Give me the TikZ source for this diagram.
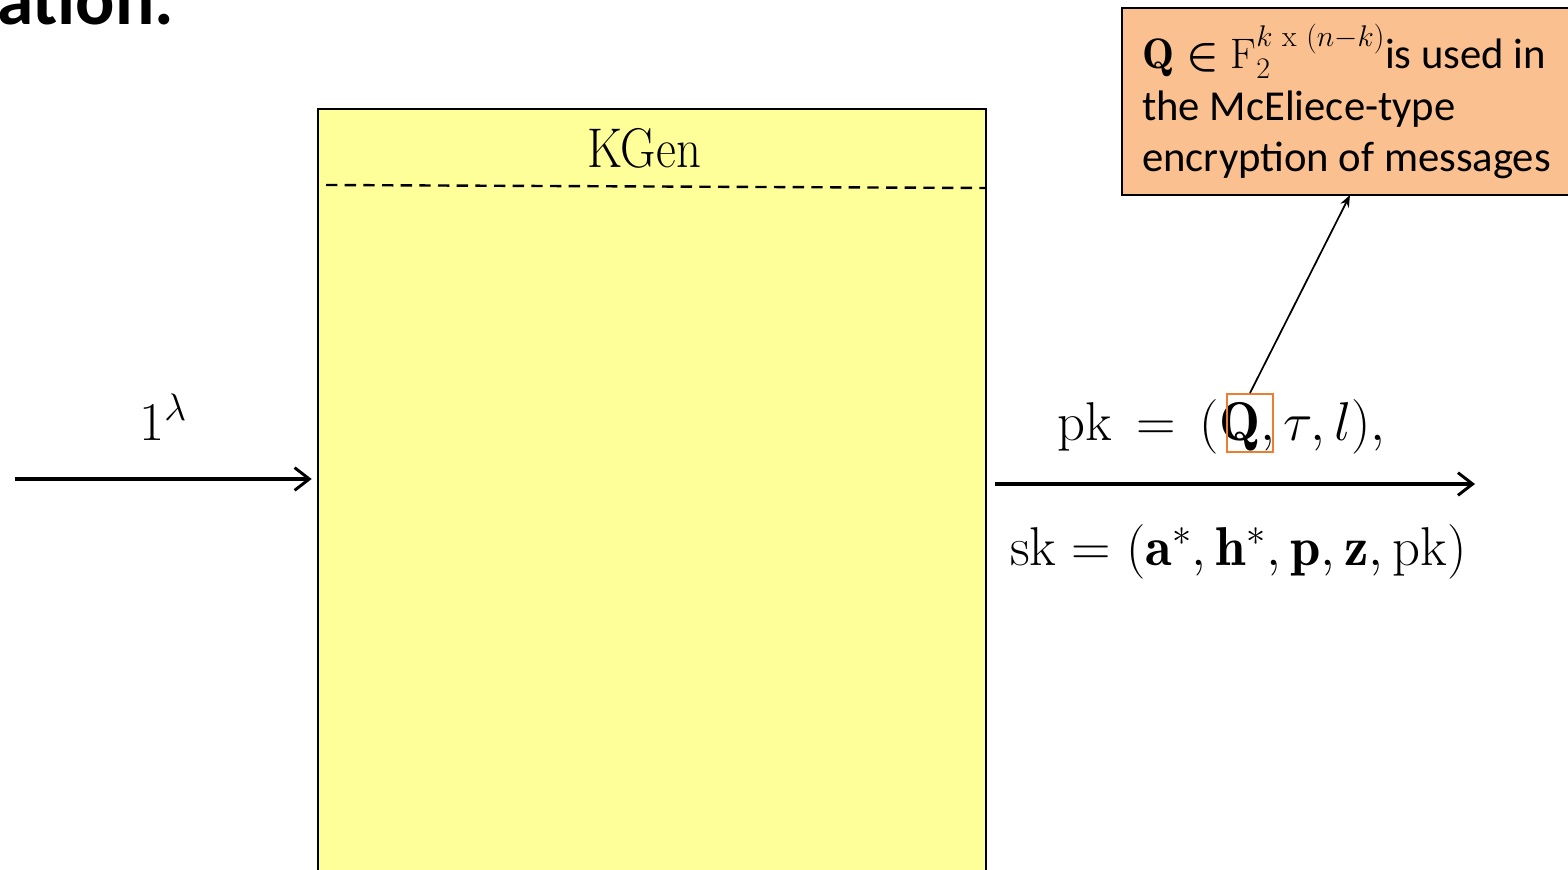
\RequirePackage{fix-cm}
\documentclass[tikz,border=0pt]{standalone}
\usepackage{fontspec}
\usepackage{amsmath}
\newfontfamily\calibri{Carlito}
\usetikzlibrary{arrows.meta}
\definecolor{kyellow}{HTML}{FFFF99}
\definecolor{calloutfill}{HTML}{FAC090}
\definecolor{qorange}{HTML}{ED7D31}
\tikzset{
  bigarrow/.style={line width=2.4pt,-{Straight Barb[length=11pt,width=17pt,line width=2.2pt]}},
  thinarrow/.style={line width=1.3pt,-{Stealth[length=9pt,width=7pt]}},
  mathtext/.style={inner sep=0pt,anchor=base,font=\fontsize{41}{49}\selectfont},
  callouttext/.style={inner sep=0pt,anchor=base west,font=\calibri\fontsize{32}{39}\selectfont},
}
\begin{document}
\begin{tikzpicture}[x=0.75pt,y=-0.75pt]
\useasboundingbox (0,0) rectangle (1568,870);
\clip (0,0) rectangle (1568,870);

% cropped title
\node[inner sep=0pt,anchor=base west,font=\calibri\bfseries\fontsize{55}{60}\selectfont] (title) at (-3,25) {ation.};

% KGen box
\node[draw,line width=1.5pt,fill=kyellow,inner sep=0pt,anchor=north west,
      minimum width=668*0.75pt,minimum height=800*0.75pt] (kgen) at (317,108) {};
\node[inner sep=0pt,anchor=base,font=\fontsize{42}{50}\selectfont] (kgenlabel) at (644,168) {\scalebox{0.87}[1]{KGen}};
\coordinate (dashL) at (326,185);
\coordinate (dashR) at (985,188);
\draw[line width=1.8pt,dash pattern=on 8.5pt off 5.5pt] (dashL) -- (dashR);

% input
\coordinate (inL) at (15,479);
\draw[bigarrow] (inL) -- ([xshift=-4pt]inL -| kgen.west);
\node[mathtext] (lam) at (163,440) {$1^{\lambda}$};

% output
\coordinate (outL) at (995,484);
\coordinate (outR) at (1475,484);
\draw[bigarrow] (outL) -- (outR);
\node[mathtext,anchor=base west] (pk) at (1057,440)
  {$\mathrm{pk}\mskip8mu{=}\mskip8mu(\mathbf{Q},\tau,l),$};
\node[mathtext,anchor=base west] (sk) at (1010,565)
  {$\mathrm{sk}=(\mathbf{a}^{*},\mathbf{h}^{*},\mathbf{p},\mathbf{z},\mathrm{pk})$};
\node[draw=qorange,line width=1.5pt,inner sep=0pt,anchor=north west,
      minimum width=46*0.75pt,minimum height=58*0.75pt] (qbox) at (1226,393) {};

% callout
\node[draw,line width=1.5pt,fill=calloutfill,inner sep=0pt,anchor=north west,
      minimum width=470*0.75pt,minimum height=187*0.75pt] (callout) at (1121,7) {};
\node[callouttext] (c1) at (1142,69)
  {$\mathbf{Q}\mathrel{\boldsymbol{\in}}\mathrm{F}_2^{k\ \mathrm{x}\ (n-k)}$is used in};
\node[callouttext] (c2) at (1142,121) {the McEliece-type};
\node[callouttext] (c3) at (1142,172) {encryption of messages};
\coordinate (ctip) at (1350,195);
\draw[thinarrow] (qbox.north) -- (ctip);
\end{tikzpicture}
\end{document}
